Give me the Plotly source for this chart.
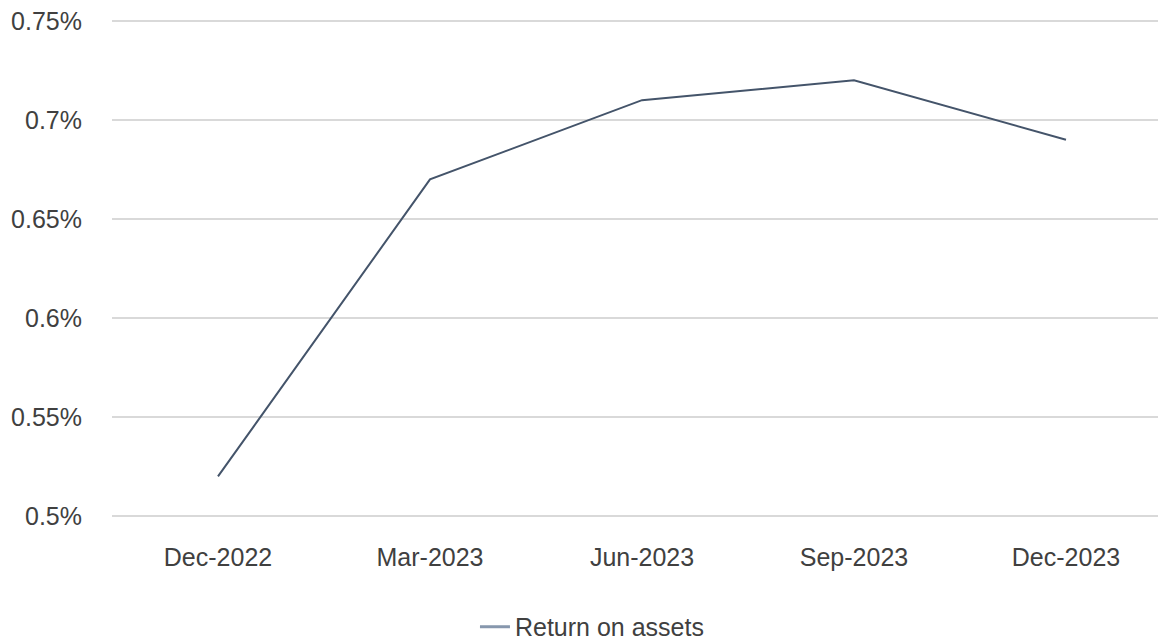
import plotly.graph_objects as go

categories = ["Dec-2022", "Mar-2023", "Jun-2023", "Sep-2023", "Dec-2023"]
roa = [0.52, 0.67, 0.71, 0.72, 0.69]
y_tickvals = [0.5, 0.55, 0.6, 0.65, 0.7, 0.75]
y_ticktext = ["0.5%", "0.55%", "0.6%", "0.65%", "0.7%", "0.75%"]
series_name = "Return on assets"

fig = go.Figure()
fig.add_trace(go.Scatter(
    x=list(range(len(categories))), y=roa, mode="lines",
    name=series_name, showlegend=False,
    line=dict(color="#44546a", width=2),
))
# legend sample (lighter, as in the reference)
fig.add_trace(go.Scatter(
    x=[None], y=[None], mode="lines", name=series_name,
    line=dict(color="#8797ad", width=3),
))

font = dict(family="Liberation Sans, Arial, sans-serif", size=25, color="#404040")

fig.update_layout(
    width=1158, height=639,
    margin=dict(l=112, r=0, t=17, b=119, autoexpand=False),
    paper_bgcolor="white", plot_bgcolor="white",
    font=font,
    showlegend=True,
    legend=dict(orientation="h", x=0.347, xanchor="left", y=-0.2127, yanchor="middle",
                font=font, bgcolor="rgba(0,0,0,0)"),
    xaxis=dict(
        range=[-0.5, 4.434], automargin=False,
        tickvals=list(range(len(categories))), ticktext=categories,
        showgrid=False, zeroline=False, showline=False,
        ticks="outside", ticklen=15, tickcolor="rgba(0,0,0,0)",
    ),
    yaxis=dict(
        range=[0.498, 0.752], automargin=False,
        tickvals=y_tickvals, ticktext=y_ticktext,
        showgrid=True, gridcolor="#d9d9d9", gridwidth=1.5,
        zeroline=False, showline=False,
        ticks="outside", ticklen=24, tickcolor="rgba(0,0,0,0)",
    ),
)

fig.write_html("out.html", config={"displayModeBar": False},
               post_script="document.body.style.margin='0';")
